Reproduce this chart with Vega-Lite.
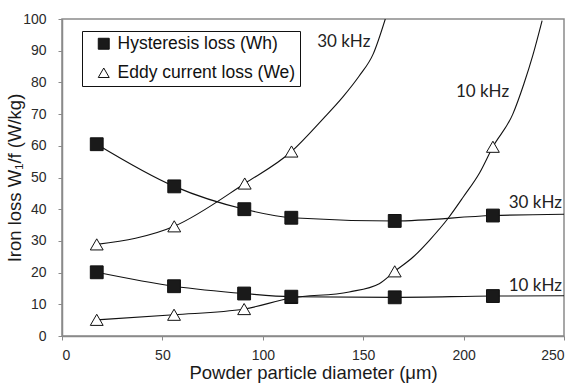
{
  "$schema": "https://vega.github.io/schema/vega-lite/v6.json",
  "width": 502,
  "height": 317,
  "autosize": {"type": "none"},
  "padding": {"left": 62, "top": 19, "right": 13, "bottom": 47},
  "background": "white",
  "config": {
    "view": {"stroke": "#8a8a8a", "strokeWidth": 1.5},
    "font": "Liberation Sans",
    "axis": {
      "grid": false,
      "domainColor": "#8a8a8a",
      "domainWidth": 1.5,
      "tickColor": "#8a8a8a",
      "tickSize": 4,
      "labelFont": "Liberation Sans",
      "labelFontSize": 14,
      "labelColor": "#2a2a2a",
      "titleFont": "Liberation Sans",
      "titleFontSize": 18.5,
      "titleFontWeight": "normal",
      "titleColor": "#1a1a1a"
    },
    "legend": {
      "orient": "none",
      "legendX": 20,
      "legendY": 12,
      "strokeColor": "#111",
      "padding": 4,
      "symbolOffset": 9,
      "labelFont": "Liberation Sans",
      "labelFontSize": 17.5,
      "labelColor": "#111",
      "symbolSize": 120,
      "symbolStrokeColor": "#111",
      "symbolStrokeWidth": 1,
      "rowPadding": 10,
      "labelOffset": 5,
      "labelLimit": 300
    }
  },
  "datasets": {
    "curves": [
      {"curve": "h30", "x": 17.3, "y": 60.5},
      {"curve": "h30", "x": 55.9, "y": 47.2},
      {"curve": "h30", "x": 90.8, "y": 40.0},
      {"curve": "h30", "x": 114.2, "y": 37.3},
      {"curve": "h30", "x": 165.7, "y": 36.3},
      {"curve": "h30", "x": 214.6, "y": 38.0},
      {"curve": "h30", "x": 250, "y": 38.4},
      {"curve": "h10", "x": 17.3, "y": 20.1},
      {"curve": "h10", "x": 55.8, "y": 15.7},
      {"curve": "h10", "x": 90.7, "y": 13.4},
      {"curve": "h10", "x": 114.2, "y": 12.4},
      {"curve": "h10", "x": 165.7, "y": 12.2},
      {"curve": "h10", "x": 214.6, "y": 12.6},
      {"curve": "h10", "x": 250, "y": 12.7},
      {"curve": "e30", "x": 17.3, "y": 28.9},
      {"curve": "e30", "x": 55.9, "y": 34.6},
      {"curve": "e30", "x": 91.0, "y": 48.1},
      {"curve": "e30", "x": 114.3, "y": 58.2},
      {"curve": "e30", "x": 130, "y": 68.5},
      {"curve": "e30", "x": 140, "y": 75.5},
      {"curve": "e30", "x": 148, "y": 82},
      {"curve": "e30", "x": 155, "y": 89},
      {"curve": "e30", "x": 161, "y": 100},
      {"curve": "e10", "x": 17.3, "y": 5.1},
      {"curve": "e10", "x": 55.8, "y": 6.7},
      {"curve": "e10", "x": 90.7, "y": 8.5},
      {"curve": "e10", "x": 114.2, "y": 12.0},
      {"curve": "e10", "x": 143, "y": 13.9},
      {"curve": "e10", "x": 158, "y": 16.5},
      {"curve": "e10", "x": 165.7, "y": 20.4},
      {"curve": "e10", "x": 175, "y": 25},
      {"curve": "e10", "x": 183, "y": 30.2},
      {"curve": "e10", "x": 192.5, "y": 37.3},
      {"curve": "e10", "x": 200, "y": 44},
      {"curve": "e10", "x": 208, "y": 51.5},
      {"curve": "e10", "x": 214.6, "y": 59.7},
      {"curve": "e10", "x": 224.5, "y": 70},
      {"curve": "e10", "x": 230, "y": 79.5},
      {"curve": "e10", "x": 234.5, "y": 88.6},
      {"curve": "e10", "x": 239.1, "y": 99.5}
    ],
    "points": [
      {"type": "Eddy current loss (We)", "x": 17.3, "y": 28.9},
      {"type": "Eddy current loss (We)", "x": 55.9, "y": 34.6},
      {"type": "Eddy current loss (We)", "x": 91.0, "y": 48.1},
      {"type": "Eddy current loss (We)", "x": 114.3, "y": 58.2},
      {"type": "Eddy current loss (We)", "x": 17.3, "y": 5.1},
      {"type": "Eddy current loss (We)", "x": 55.8, "y": 6.7},
      {"type": "Eddy current loss (We)", "x": 90.7, "y": 8.5},
      {"type": "Eddy current loss (We)", "x": 114.2, "y": 12.0},
      {"type": "Eddy current loss (We)", "x": 165.7, "y": 20.4},
      {"type": "Eddy current loss (We)", "x": 214.6, "y": 59.7},
      {"type": "Hysteresis loss (Wh)", "x": 17.3, "y": 60.5},
      {"type": "Hysteresis loss (Wh)", "x": 55.9, "y": 47.2},
      {"type": "Hysteresis loss (Wh)", "x": 90.8, "y": 40.0},
      {"type": "Hysteresis loss (Wh)", "x": 114.2, "y": 37.3},
      {"type": "Hysteresis loss (Wh)", "x": 165.7, "y": 36.3},
      {"type": "Hysteresis loss (Wh)", "x": 214.6, "y": 38.0},
      {"type": "Hysteresis loss (Wh)", "x": 17.3, "y": 20.1},
      {"type": "Hysteresis loss (Wh)", "x": 55.8, "y": 15.7},
      {"type": "Hysteresis loss (Wh)", "x": 90.7, "y": 13.4},
      {"type": "Hysteresis loss (Wh)", "x": 114.2, "y": 12.4},
      {"type": "Hysteresis loss (Wh)", "x": 165.7, "y": 12.2},
      {"type": "Hysteresis loss (Wh)", "x": 214.6, "y": 12.6}
    ],
    "labels": [
      {"x": 140.3, "y": 92.7, "label": "30 kHz"},
      {"x": 209.4, "y": 76.9, "label": "10 kHz"},
      {"x": 235.7, "y": 41.8, "label": "30 kHz"},
      {"x": 235.7, "y": 15.7, "label": "10 kHz"}
    ]
  },
  "encoding": {
    "x": {
      "field": "x",
      "type": "quantitative",
      "scale": {"domain": [0, 250], "nice": false, "zero": false},
      "axis": {
        "title": "Powder particle diameter (μm)",
        "values": [0, 50, 100, 150, 200, 250],
        "labelPadding": 8,
        "titlePadding": 1
      }
    },
    "y": {
      "field": "y",
      "type": "quantitative",
      "scale": {"domain": [0, 100], "nice": false},
      "axis": {
        "title": "Iron loss W₁/f (W/kg)",
        "values": [0, 10, 20, 30, 40, 50, 60, 70, 80, 90, 100],
        "labelPadding": 12,
        "titlePadding": -2
      }
    }
  },
  "layer": [
    {
      "data": {"name": "curves"},
      "mark": {"type": "line", "interpolate": "monotone", "color": "#111", "strokeWidth": 1.1, "clip": true},
      "encoding": {"detail": {"field": "curve", "type": "nominal"}}
    },
    {
      "data": {"name": "points"},
      "mark": {"type": "point", "filled": true, "strokeWidth": 1, "opacity": 1, "size": 165},
      "encoding": {
        "shape": {
          "field": "type",
          "type": "nominal",
          "scale": {"domain": ["Hysteresis loss (Wh)", "Eddy current loss (We)"], "range": ["square", "triangle-up"]},
          "legend": {"title": null}
        },
        "fill": {
          "field": "type",
          "type": "nominal",
          "scale": {"domain": ["Hysteresis loss (Wh)", "Eddy current loss (We)"], "range": ["#1a1a1a", "white"]},
          "legend": {"title": null}
        },
        "stroke": {
          "field": "type",
          "type": "nominal",
          "scale": {"domain": ["Hysteresis loss (Wh)", "Eddy current loss (We)"], "range": ["#111", "#111"]},
          "legend": {"title": null}
        }
      }
    },
    {
      "data": {"name": "labels"},
      "mark": {"type": "text", "font": "Lato", "fontSize": 17, "color": "#222", "align": "center", "baseline": "middle"},
      "encoding": {"text": {"field": "label", "type": "nominal"}}
    }
  ]
}
